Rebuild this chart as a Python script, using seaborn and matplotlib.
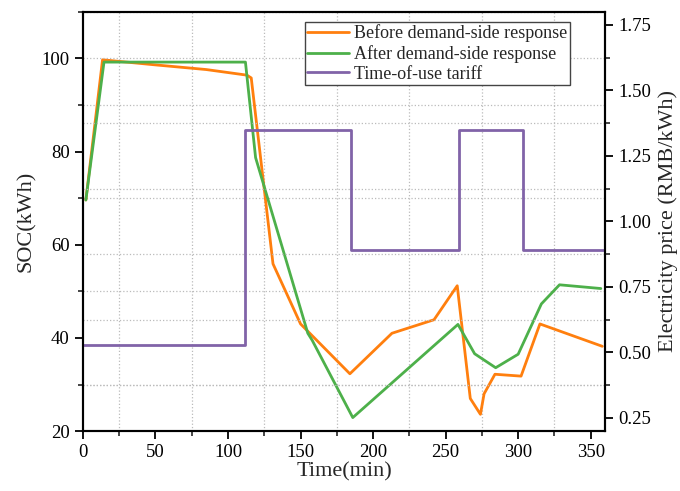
import matplotlib
matplotlib.use('Agg')
import pandas as pd
import matplotlib.pyplot as plt
import seaborn as sns
from matplotlib.ticker import MultipleLocator, AutoMinorLocator

# SOC before demand-side response
t_before = [2, 13.5, 50, 85, 113, 116, 131, 150, 184, 213, 242, 258, 267, 274, 276.5, 284, 302, 315, 358]
soc_before = [69.6, 99.7, 98.6, 97.6, 96.4, 95.8, 55.9, 43.0, 32.3, 41.0, 43.9, 51.2, 27.0, 23.6, 28.0, 32.2, 31.8, 43.0, 38.2]

# SOC after demand-side response
t_after = [2, 14.5, 112, 119, 155, 158, 186, 258.5, 270, 284.5, 300, 316, 328.5, 357]
soc_after = [69.6, 99.2, 99.2, 78.7, 41.0, 39.5, 22.9, 42.9, 36.6, 33.6, 36.5, 47.3, 51.4, 50.6]

# time-of-use tariff
t_price = [0, 112, 185, 259, 303, 360]
price = [0.53, 1.35, 0.89, 1.35, 0.89, 0.89]

sns.set_style('ticks')
plt.rcParams['font.family'] = ['Liberation Serif', 'DejaVu Serif']

fig = plt.figure(figsize=(6.8, 4.91), dpi=100)
ax = fig.add_axes([0.122, 0.122, 0.768, 0.854])
ax2 = ax.twinx()

before = pd.DataFrame({'t': t_before, 'soc': soc_before})
after = pd.DataFrame({'t': t_after, 'soc': soc_after})
tou = pd.DataFrame({'t': t_price, 'price': price})

sns.lineplot(data=before, x='t', y='soc', ax=ax, color='#FF7F0E', lw=2, label='Before demand-side response', sort=False)
sns.lineplot(data=after, x='t', y='soc', ax=ax, color='#4DB04A', lw=2, label='After demand-side response', sort=False)
sns.lineplot(data=tou, x='t', y='price', ax=ax2, color='#8163A8', lw=2, label='Time-of-use tariff',
             drawstyle='steps-post', sort=False)

ax.set_xlim(0, 360)
ax.set_ylim(20, 110)
ax2.set_ylim(0.2, 1.8)

ax.xaxis.set_major_locator(MultipleLocator(50))
ax.xaxis.set_minor_locator(AutoMinorLocator(2))
ax.yaxis.set_major_locator(MultipleLocator(20))
ax.yaxis.set_minor_locator(AutoMinorLocator(2))
ax2.yaxis.set_major_locator(MultipleLocator(0.25))
ax2.yaxis.set_minor_locator(AutoMinorLocator(2))

# dotted grid on the minor ticks only
ax.grid(which='minor', ls=':', color='#bbbbbb', lw=0.9)
ax.grid(which='major', visible=False)
ax2.grid(which='minor', axis='y', ls=':', color='#bbbbbb', lw=0.9)
ax2.grid(which='major', visible=False)

for a in (ax, ax2):
    a.tick_params(which='major', direction='out', length=6, width=1.3, labelsize=13.5, colors='black')
    a.tick_params(which='minor', direction='out', length=3.5, width=1.2)
    for s in a.spines.values():
        s.set_visible(True)
        s.set_linewidth(1.5)
        s.set_color('black')

ax.set_xlabel('Time(min)', fontsize=16, labelpad=1)
ax.set_ylabel('SOC(kWh)', fontsize=16, labelpad=4)
ax2.set_ylabel('Electricity price (RMB/kWh)', fontsize=16, labelpad=5)

h1, l1 = ax.get_legend_handles_labels()
h2, l2 = ax2.get_legend_handles_labels()
if ax.get_legend():
    ax.get_legend().remove()
leg = ax2.legend(h1 + h2, l1 + l2, loc='upper right', bbox_to_anchor=(0.933, 0.976), borderaxespad=0,
                 fontsize=13, frameon=True, fancybox=False, edgecolor='#444444', framealpha=1,
                 borderpad=0.15, labelspacing=0.15, handlelength=2.3, handletextpad=0.3)
leg.get_frame().set_linewidth(1.0)

fig.savefig('out.png', dpi=100)
